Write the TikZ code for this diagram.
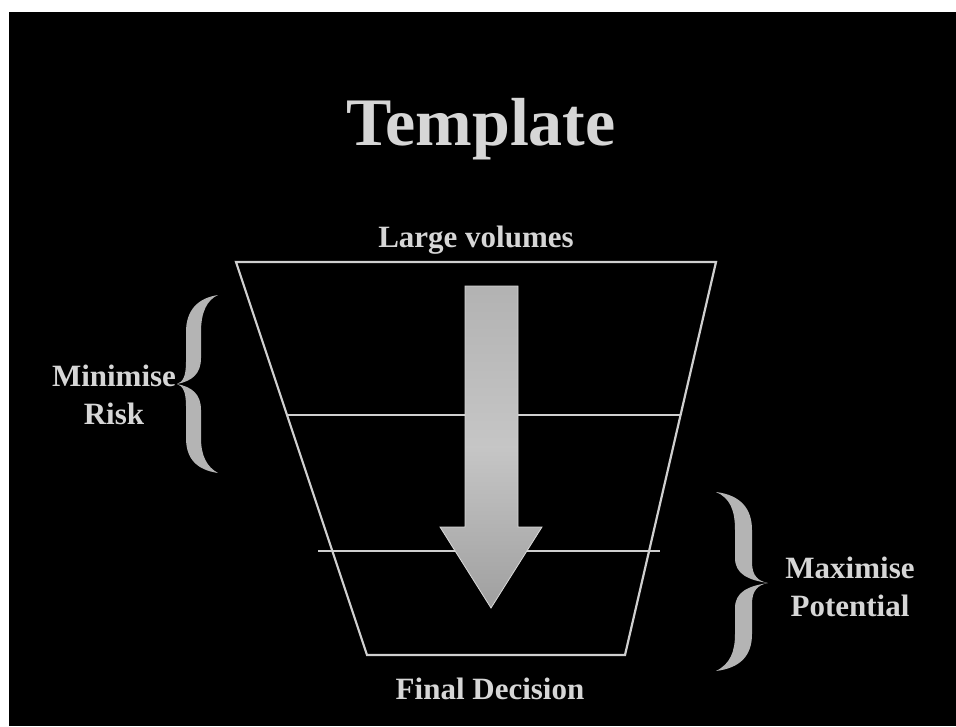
\documentclass[tikz,border=0pt]{standalone}
\usepackage{fontspec}
\setmainfont{Liberation Serif}
\definecolor{txt}{HTML}{D6D6D6}
\definecolor{lin}{HTML}{CFCFCF}
\definecolor{brc}{HTML}{B4B4B4}
\begin{document}
\begin{tikzpicture}[x=1pt,y=-1pt,
  lbl/.style={text=txt,font=\fontsize{31}{38}\selectfont\bfseries,align=center,inner sep=0pt},
  funnel/.style={draw=lin,line width=2.2pt,line join=miter},
  brace/.style={fill=brc,draw=none}]
\useasboundingbox (0,0) rectangle (956,726);
\fill[white] (0,0) rectangle (956,726);
\fill[black] (9,12) rectangle (956,726);
% title
\node[text=txt,font=\fontsize{68}{68}\selectfont\bfseries,anchor=base,inner sep=0pt] (title) at (481,145) {Template};
% funnel
\coordinate (tl) at (236,262);
\coordinate (tr) at (716,262);
\coordinate (br) at (625,655);
\coordinate (bl) at (367,655);
\draw[funnel] (tl) -- (tr) -- (br) -- (bl) -- cycle;
\coordinate (l1a) at (287,415);
\coordinate (l1b) at (681,415);
\coordinate (l2a) at (318,551);
\coordinate (l2b) at (660,551);
\draw[lin,line width=2.2pt] (l1a) -- (l1b);
\draw[lin,line width=2.2pt] (l2a) -- (l2b);
% arrow
\shade[top color=gray!60!white,bottom color=gray!75!white,middle color=gray!45!white,draw=gray!30!white,line width=0.8pt]
  (465,286) -- (518,286) -- (518,527) -- (542,527) -- (491,608) -- (440,527) -- (465,527) -- cycle;
% labels
\node[lbl,anchor=base] (large) at (476,247) {Large volumes};
\node[lbl,anchor=base] (final) at (490,699) {Final Decision};
\node[lbl,anchor=base] (minrisk) at (114,424) {Minimise\\Risk};
\node[lbl,anchor=base] (maxpot) at (850,616) {Maximise\\Potential};
% left brace
\fill[brace] (218,295) .. controls (198,298) and (186,310) .. (186,332) -- (186,362)
  .. controls (186,376) and (183,382) .. (177,384)
  .. controls (183,386) and (186,392) .. (186,406) -- (186,438)
  .. controls (186,460) and (198,470) .. (218,473)
  .. controls (207,467) and (201,456) .. (201,438) -- (201,410)
  .. controls (201,394) and (192,387) .. (177,384)
  .. controls (192,381) and (201,374) .. (201,358) -- (201,332)
  .. controls (201,312) and (207,300) .. (218,295) -- cycle;
% right brace
\fill[brace] (716,492) .. controls (740,495) and (752,508) .. (752,530) -- (752,562)
  .. controls (752,576) and (758,581) .. (768,583)
  .. controls (758,585) and (752,590) .. (752,604) -- (752,634)
  .. controls (752,656) and (740,668) .. (716,671)
  .. controls (730,664) and (735,652) .. (735,634) -- (735,608)
  .. controls (735,592) and (748,586) .. (768,583)
  .. controls (748,580) and (735,574) .. (735,558) -- (735,530)
  .. controls (735,510) and (730,498) .. (716,492) -- cycle;
\end{tikzpicture}
\end{document}
